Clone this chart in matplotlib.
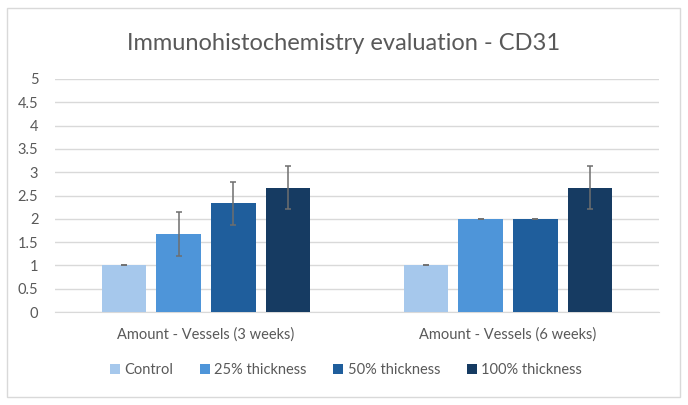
import matplotlib
matplotlib.use('Agg')
import matplotlib.pyplot as plt
import numpy as np

# data
groups = ['Amount - Vessels (3 weeks)', 'Amount - Vessels (6 weeks)']
series = ['Control', '25% thickness', '50% thickness', '100% thickness']
values = [[1.0, 1.0], [1.67, 2.0], [2.33, 2.0], [2.67, 2.67]]
errors = [[0.0, 0.0], [0.47, 0.0], [0.47, 0.0], [0.47, 0.47]]
colors = ['#A6C8EC', '#4E95D9', '#1F5E9C', '#163B62']

plt.rcParams['font.family'] = ['Lato', 'DejaVu Sans']

fig = plt.figure(figsize=(6.88, 4.05), dpi=100)
ax = fig.add_axes([55/688, 93/405, 604/688, 233/405])

x = np.arange(len(groups))
width = 0.146
step = 0.182
for i, name in enumerate(series):
    ax.bar(x + (i - 1.5) * step, values[i], width, color=colors[i], label=name,
           yerr=errors[i], capsize=2.5,
           error_kw=dict(ecolor='#6E6E6E', elinewidth=1.1, capthick=1.1), zorder=3)

ax.set_xlim(-0.5, 1.5)
ax.set_ylim(0, 5)
ax.set_yticks(np.arange(0, 5.01, 0.5))
ax.set_yticklabels(['0', '0.5', '1', '1.5', '2', '2.5', '3', '3.5', '4', '4.5', '5'])
ax.set_xticks(x)
ax.set_xticklabels(groups)
ax.grid(axis='y', color='#D9D9D9', linewidth=1, zorder=0)
for s in ['top', 'right', 'left']:
    ax.spines[s].set_visible(False)
ax.spines['bottom'].set_color('#D9D9D9')
ax.tick_params(axis='both', length=0, colors='#595959', labelsize=10.5)
ax.tick_params(axis='y', pad=12)
ax.tick_params(axis='x', pad=11)

fig.text(0.5, (405 - 44) / 405, 'Immunohistochemistry evaluation - CD31', ha='center', va='center',
         fontsize=17, color='#595959')

fig.legend(loc='center', bbox_to_anchor=(0.503, (405 - 370) / 405), ncol=4, frameon=False,
           handlelength=0.7, handleheight=0.7, handletextpad=0.3, columnspacing=1.8,
           fontsize=10.5, labelcolor='#595959')

# chart border
fig.patches.append(plt.Rectangle((7/688, 8/405), 673/688, 389/405, transform=fig.transFigure,
                                 fill=False, edgecolor='#D9D9D9', linewidth=1))

fig.savefig('out.png', dpi=100)
